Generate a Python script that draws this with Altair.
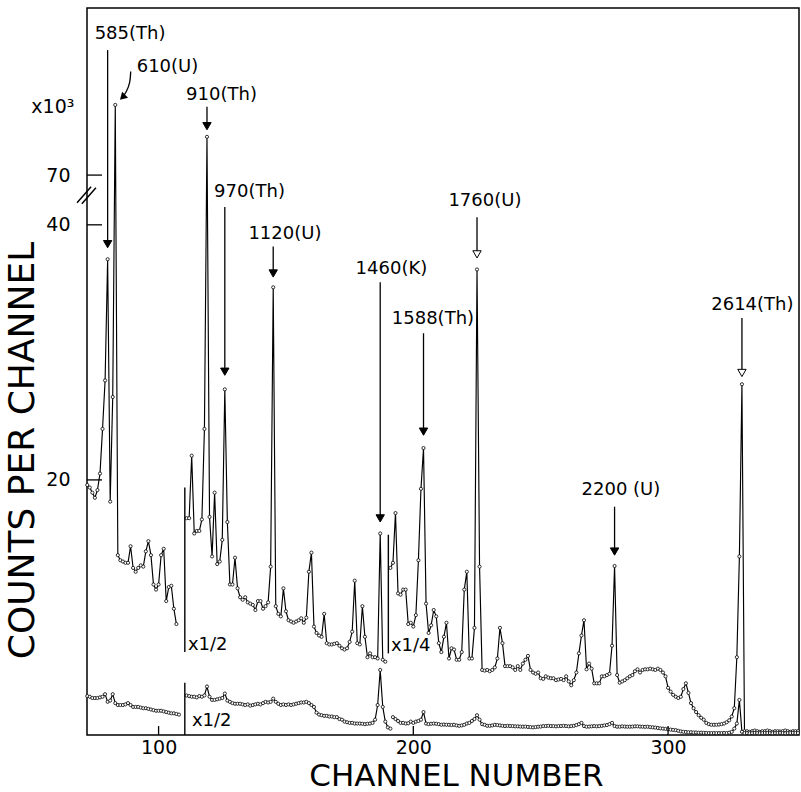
import altair as alt
import pandas as pd

FONT = "DejaVu Sans"

# ---------------- data ----------------
# upper spectrum, three scale segments (x1, x1/2, x1/4); values in plotted units (x10^3)
upper_a_start = 72
upper_a = [19.6, 19.4, 19.0, 18.6, 19.2, 20.5, 24.0, 27.8, 37.3, 18.3,
           26.5, 49.4, 14.1, 13.7, 13.6, 13.5, 13.5, 14.8, 13.1, 12.8,
           13.1, 13.3, 13.2, 14.4, 15.2, 14.1, 11.8, 11.4, 11.8, 14.1,
           14.6, 10.5, 11.6, 11.7, 9.9, 8.7]
upper_b_start = 111
upper_b = [17.0, 17.0, 21.9, 15.8, 16.0, 16.0, 16.9, 24.0, 46.9, 17.1,
           14.0, 19.0, 13.4, 13.6, 15.3, 27.1, 16.7, 11.8, 11.8, 13.9,
           11.5, 10.8, 10.6, 10.8, 10.4, 10.3, 10.2, 9.8, 10.5, 10.5,
           9.9, 10.1, 10.4, 13.2, 35.1, 10.1, 9.5, 9.3, 11.5, 9.7,
           9.0, 8.9, 8.8, 8.9, 9.0, 9.15, 8.8, 9.2, 12.8, 14.3,
           8.5, 8.0, 7.8, 7.7, 9.5, 7.2, 7.1, 7.1, 7.15, 7.2,
           7.0, 6.8, 6.7, 6.8, 7.3, 8.1, 12.1, 7.2, 7.1, 10.1,
           7.7, 6.1, 6.4, 6.1, 6.1, 6.0, 15.8, 5.9, 5.75]
upper_c_start = 191
upper_c = [13.1, 13.5, 17.4, 11.1, 11.0, 11.4, 11.4, 8.7, 8.8, 8.5,
           9.4, 13.7, 19.3, 22.5, 10.3, 8.0, 8.6, 9.8, 9.3, 7.2,
           6.5, 7.7, 8.8, 6.0, 6.8, 6.7, 5.9, 5.9, 6.5, 11.4,
           12.8, 6.0, 6.0, 8.4, 36.5, 13.2, 5.1, 5.05, 5.1, 5.0,
           5.1, 5.3, 6.0, 8.4, 7.2, 5.4, 5.4, 5.4, 5.3, 5.1,
           5.4, 5.1, 5.6, 5.9, 6.2, 5.1, 4.9, 4.8, 4.9, 4.45,
           4.4, 4.6, 4.5, 4.45, 4.45, 4.3, 4.35, 4.4, 4.3, 4.6,
           4.2, 3.9, 4.3, 4.9, 6.4, 7.8, 9.0, 5.15, 5.6, 5.2,
           4.05, 4.05, 4.05, 4.6, 4.6, 4.7, 4.8, 7.0, 13.25, 4.7,
           4.1, 4.2, 4.3, 4.45, 4.6, 4.7, 5.0, 5.15, 4.9, 5.1,
           5.15, 5.15, 5.2, 5.15, 5.1, 5.2, 5.1, 4.9, 4.6, 3.7,
           3.4, 3.15, 3.0, 2.9, 3.0, 3.6, 4.05, 3.3, 2.5, 2.1,
           1.8, 1.55, 1.35, 1.2, 0.95, 0.85, 0.8, 0.8, 0.8, 0.82,
           0.85, 0.9, 1.0, 1.15, 1.45, 2.1, 6.1, 14.0, 27.5, 0.3,
           0.3, 0.25, 0.3, 0.35, 0.3, 0.25, 0.3, 0.3, 0.35, 0.3,
           0.25, 0.3, 0.3, 0.28, 0.3, 0.35, 0.3, 0.25, 0.3, 0.3, 0.3]

# lower spectrum (x1/2)
lower_a_start = 72
lower_a = [3.05, 3.0, 2.9, 2.9, 2.9, 2.95, 3.0, 3.2, 2.6, 2.7,
           3.2, 2.5, 2.35, 2.35, 2.35, 2.4, 2.5, 2.35, 2.2, 2.2,
           2.2, 2.15, 2.1, 2.1, 2.05, 2.0, 1.95, 1.9, 1.9, 1.9,
           1.85, 1.8, 1.75, 1.7, 1.7, 1.65, 1.6]
lower_b_start = 111
lower_b = [3.1, 3.05, 3.0, 3.0, 2.95, 3.05, 3.0, 3.1, 3.8, 3.0,
           2.75, 2.75, 2.8, 2.85, 2.9, 3.25, 2.7, 2.6, 2.5, 2.45,
           2.45, 2.45, 2.4, 2.35, 2.4, 2.3, 2.35, 2.4, 2.45, 2.4,
           2.5, 2.6, 2.55, 2.6, 2.85, 2.6, 2.45, 2.35, 2.4, 2.35,
           2.4, 2.35, 2.4, 2.45, 2.5, 2.55, 2.55, 2.6, 2.5, 2.35,
           2.2, 1.75, 1.6, 1.55, 1.5, 1.5, 1.45, 1.45, 1.4, 1.4,
           1.25, 1.2, 1.05, 1.0, 0.95, 0.95, 0.9, 0.9, 0.9, 0.88,
           0.85, 0.88, 0.9, 0.95, 1.2, 2.35, 5.1, 2.2, 1.05, 0.6,
           0.5]
lower_c_start = 192
lower_c = [1.4, 1.25, 1.1, 0.95, 0.95, 0.9, 0.92, 1.05, 0.95, 1.05,
           1.1, 1.2, 1.8, 0.9, 0.85, 0.88, 0.9, 0.88, 0.85, 0.8,
           0.82, 0.8, 0.8, 0.78, 0.8, 0.75, 0.72, 0.75, 0.8, 0.9,
           0.95, 1.1, 1.25, 1.55, 1.2, 0.85, 0.8, 0.72, 0.72, 0.75,
           0.8, 0.78, 0.75, 0.72, 0.7, 0.72, 0.7, 0.7, 0.68, 0.68,
           0.66, 0.65, 0.66, 0.63, 0.62, 0.6, 0.62, 0.65, 0.66, 0.7,
           0.7, 0.72, 0.7, 0.7, 0.68, 0.7, 0.7, 0.72, 0.7, 0.68,
           0.7, 0.72, 0.78, 0.85, 0.95, 0.7, 0.65, 0.66, 0.68, 0.7,
           0.68, 0.7, 0.72, 0.75, 0.78, 0.85, 0.95, 0.7, 0.65, 0.65,
           0.68, 0.66, 0.65, 0.65, 0.66, 0.68, 0.68, 0.66, 0.65, 0.64,
           0.65, 0.62, 0.6, 0.58, 0.55, 0.52, 0.5, 0.48, 0.45, 0.42,
           0.4, 0.38, 0.33, 0.28, 0.25, 0.24, 0.22, 0.22, 0.2, 0.2,
           0.18, 0.18, 0.17, 0.16, 0.15, 0.15, 0.15, 0.15, 0.15, 0.15,
           0.16, 0.15, 0.18, 0.25, 0.5, 0.9, 2.75, 0.25, 0.15, 0.15,
           0.14, 0.15, 0.16, 0.15, 0.14, 0.15, 0.15, 0.16, 0.15, 0.14,
           0.15, 0.15, 0.16, 0.15, 0.14, 0.15, 0.15, 0.16, 0.15, 0.15]

# scale-change separators
sep_ch = [110.3, 110.3, 190.2]
sep_lo = [6.5, 0.0, 6.4]
sep_hi = [19.4, 4.1, 15.7]
scale_text = ["x1/2", "x1/4", "x1/2"]
scale_ch = [111.5, 191.2, 113.1]
scale_v = [7.06, 6.98, 1.1]

# peak labels (energies in keV)
peak_labels = ["585(Th)", "610(U)", "910(Th)", "970(Th)", "1120(U)", "1460(K)",
               "1588(Th)", "1760(U)", "2200 (U)", "2614(Th)"]
label_ch = [88.8, 103.5, 124.7, 135.7, 149.6, 191.4, 207.7, 228.1, 281.5, 333.1]
label_v = [55.0, 52.4, 50.2, 42.6, 39.3, 36.5, 32.6, 41.9, 19.2, 33.7]

# straight arrows
arrow_ch = [80, 119, 126, 145, 187, 204, 225, 279, 329]
arrow_top = [53.7, 49.25, 41.4, 38.3, 35.5, 31.5, 40.6, 17.9, 32.7]
arrow_tip = [38.2, 47.45, 28.2, 35.9, 16.7, 23.5, 37.4, 14.1, 28.1]
arrow_style = ["filled", "filled", "filled", "filled", "filled", "filled", "open", "filled", "open"]
# curved arrow for 610(U)
curve_arrow_ch = [89.05, 88.85, 87.4, 85.85]
curve_arrow_v = [52.02, 51.14, 50.43, 50.0]

# axes
x_domain = [71.9, 351.4]
y_domain = [0, 57]
x_tick_values = [100, 200, 300]
y_tick_values = [20, 40, 43.9]
y_tick_labels = ["20", "40", "70"]
break_x1 = [68.0, 69.9]
break_y1 = [41.73, 41.65]
break_x2 = [73.5, 75.4]
break_y2 = [42.98, 42.9]
mult_text = ["x10\u00b3"]
mult_ch = [58.5]
mult_v = [49.25]

# ---------------- build tables ----------------
def segment(start, values, name):
    return pd.DataFrame({"ch": list(range(start, start + len(values))), "v": values, "seg": name})

curves = pd.concat([
    segment(upper_a_start, upper_a, "ua"),
    segment(upper_b_start, upper_b, "ub"),
    segment(upper_c_start, upper_c, "uc"),
    segment(lower_a_start, lower_a, "la"),
    segment(lower_b_start, lower_b, "lb"),
    segment(lower_c_start, lower_c, "lc"),
], ignore_index=True)

sep_df = pd.DataFrame({"ch": sep_ch, "lo": sep_lo, "hi": sep_hi})
scale_df = pd.DataFrame({"ch": scale_ch, "v": scale_v, "t": scale_text})
label_df = pd.DataFrame({"ch": label_ch, "v": label_v, "t": peak_labels})
arrow_df = pd.DataFrame({"ch": arrow_ch, "top": arrow_top, "tip": arrow_tip, "style": arrow_style})
curve_df = pd.DataFrame({"ch": curve_arrow_ch, "v": curve_arrow_v, "i": list(range(len(curve_arrow_ch)))})
head610_df = curve_df.tail(1)
ytick_df = pd.DataFrame({"v": y_tick_values, "x0": x_domain[0]})
xtick_df = pd.DataFrame({"ch": x_tick_values, "lo": 0.0})
break_df = pd.DataFrame({"x1": break_x1, "y1": break_y1, "x2": break_x2, "y2": break_y2})
mult_df = pd.DataFrame({"ch": mult_ch, "v": mult_v, "t": mult_text})

xs = alt.Scale(domain=x_domain, nice=False, zero=False)
ys = alt.Scale(domain=y_domain, nice=False, zero=False)

label_expr = "".join(f"datum.value == {v} ? '{t}' : " for v, t in zip(y_tick_values, y_tick_labels)) + "''"

x_axis = alt.Axis(values=x_tick_values, labelFontSize=19, labelPadding=3, ticks=False,
                  domain=False, grid=False, title="CHANNEL NUMBER", titleFontSize=31,
                  titleFontWeight="normal", titleX=369, titleY=41, titleAlign="center",
                  titleBaseline="middle", labelColor="black", titleColor="black", labelFont=FONT,
                  titleFont=FONT)
y_axis = alt.Axis(values=y_tick_values, labelExpr=label_expr, labelFontSize=19, labelPadding=17,
                  ticks=False, domain=False, grid=False, title="COUNTS PER CHANNEL",
                  titleFontSize=36, titleFontWeight="normal", titleAngle=270, titleX=-65,
                  titleY=442, titleAlign="center", titleBaseline="middle",
                  labelColor="black", titleColor="black", labelFont=FONT, titleFont=FONT)

# every layer uses the same axis definitions so that they merge into one
X = lambda f: alt.X(f, scale=xs, axis=x_axis)
Y = lambda f: alt.Y(f, scale=ys, axis=y_axis)

lines = alt.Chart(curves).mark_line(color="black", strokeWidth=1.15).encode(
    x=X("ch:Q"), y=Y("v:Q"), detail="seg:N")
pts = alt.Chart(curves).mark_point(shape="circle", size=10, filled=True, fill="white",
                                   stroke="black", strokeWidth=0.8, opacity=1).encode(
    x=X("ch:Q"), y=Y("v:Q"))

seps = alt.Chart(sep_df).mark_rule(color="black", strokeWidth=1.4).encode(
    x=X("ch:Q"), y=Y("lo:Q"), y2="hi:Q")
scale_txt = alt.Chart(scale_df).mark_text(font=FONT, fontSize=18, align="left",
                                          baseline="middle", color="black").encode(
    x=X("ch:Q"), y=Y("v:Q"), text="t:N")
labels = alt.Chart(label_df).mark_text(font=FONT, fontSize=18, align="center",
                                       baseline="middle", color="black").encode(
    x=X("ch:Q"), y=Y("v:Q"), text="t:N")

arrow_base = alt.Chart(arrow_df).transform_calculate(head="datum.tip + 0.284")
shafts = arrow_base.mark_rule(color="black", strokeWidth=1.3).encode(
    x=X("ch:Q"), y=Y("top:Q"), y2="head:Q")
heads = arrow_base.mark_point(shape="triangle-down", size=70, filled=True, stroke="black",
                              strokeWidth=1, opacity=1).encode(
    x=X("ch:Q"), y=Y("head:Q"),
    fill=alt.Fill("style:N", scale=alt.Scale(domain=["filled", "open"], range=["black", "white"]),
                  legend=None))

curve_line = alt.Chart(curve_df).mark_line(color="black", strokeWidth=1.3, interpolate="basis").encode(
    x=X("ch:Q"), y=Y("v:Q"), order="i:Q")
curve_head = alt.Chart(head610_df).mark_point(shape="triangle-down", size=70, filled=True,
                                              color="black", angle=45, opacity=1).encode(
    x=X("ch:Q"), y=Y("v:Q"))

yticks = alt.Chart(ytick_df).transform_calculate(x1="datum.x0 + 5.9").mark_rule(
    color="black", strokeWidth=1.3).encode(x=X("x0:Q"), x2="x1:Q", y=Y("v:Q"))
xticks = alt.Chart(xtick_df).transform_calculate(hi="datum.lo + 0.7").mark_rule(
    color="black", strokeWidth=1.3).encode(x=X("ch:Q"), y=Y("lo:Q"), y2="hi:Q")
breaks = alt.Chart(break_df).mark_rule(color="black", strokeWidth=1.5).encode(
    x=X("x1:Q"), x2="x2:Q", y=Y("y1:Q"), y2="y2:Q")
mult = alt.Chart(mult_df).mark_text(font=FONT, fontSize=19, align="center",
                                    baseline="middle", color="black").encode(
    x=X("ch:Q"), y=Y("v:Q"), text="t:N")

chart = alt.layer(
    lines, pts, seps, scale_txt, labels, shafts, heads, curve_line, curve_head,
    yticks, xticks, breaks, mult
).properties(
    width=712, height=727,
    padding={"left": 87, "top": 8, "right": 2, "bottom": 57},
    autosize=alt.AutoSizeParams(type="none"),
    background="white",
).configure(font=FONT).configure_view(stroke="black", strokeWidth=1.5)

chart.save("out.html", embed_options={"renderer": "svg", "actions": False})
